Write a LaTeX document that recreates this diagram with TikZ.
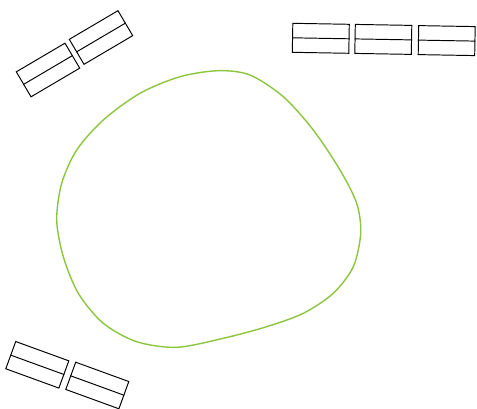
\documentclass[tikz,border=0pt]{standalone}
\usepackage{tikz}
\usepackage{xcolor}
\usetikzlibrary{positioning, calc}
\definecolor{blobGreen}{RGB}{140,198,63}

\begin{document}
\begin{tikzpicture}[
  x=0.02cm, y=-0.02cm,
  tray/.style={draw=black, line width=0.55pt, rectangle, inner sep=0pt,
    minimum width=1.13cm, minimum height=0.58cm},
  blob/.style={draw=blobGreen, line width=0.8pt},
]
  \useasboundingbox (0,0) rectangle (477,409);

  % top left pair
  \node[tray, rotate=30.5] (tl1) at (48,70) {};
  \node[tray, rotate=30.5] (tl2) at (101,37.5) {};
  % top right row
  \node[tray, rotate=-1] (tr1) at (320.8,38.3) {};
  \node[tray, rotate=-1] (tr2) at (383.3,39.4) {};
  \node[tray, rotate=-1] (tr3) at (446.7,40.6) {};
  % bottom left pair
  \node[tray, rotate=-20] (bl1) at (37.3,364.8) {};
  \node[tray, rotate=-20] (bl2) at (97.3,385.5) {};

  \foreach \t in {tl1,tl2,tr1,tr2,tr3,bl1,bl2}
    \draw[line width=0.55pt] (\t.west) -- (\t.east);

  % the green outline
  \draw[blob] plot[smooth cycle, tension=0.5] coordinates {
    (218.3,70.7) (250,75) (283.3,96.7) (313.3,130) (340,170)
    (356.7,203.3) (360.7,233.3) (353.3,266.7) (333.3,293.3)
    (303.3,313.3) (266.7,326.7) (223.3,338.3) (176.7,347.3)
    (136.7,341.7) (103.3,323.3) (78.3,293.3) (63.3,256.7)
    (56.7,220) (61.7,183.3) (76.7,150) (103.3,120) (140,93.3)
    (180,76.7)};
\end{tikzpicture}
\end{document}
